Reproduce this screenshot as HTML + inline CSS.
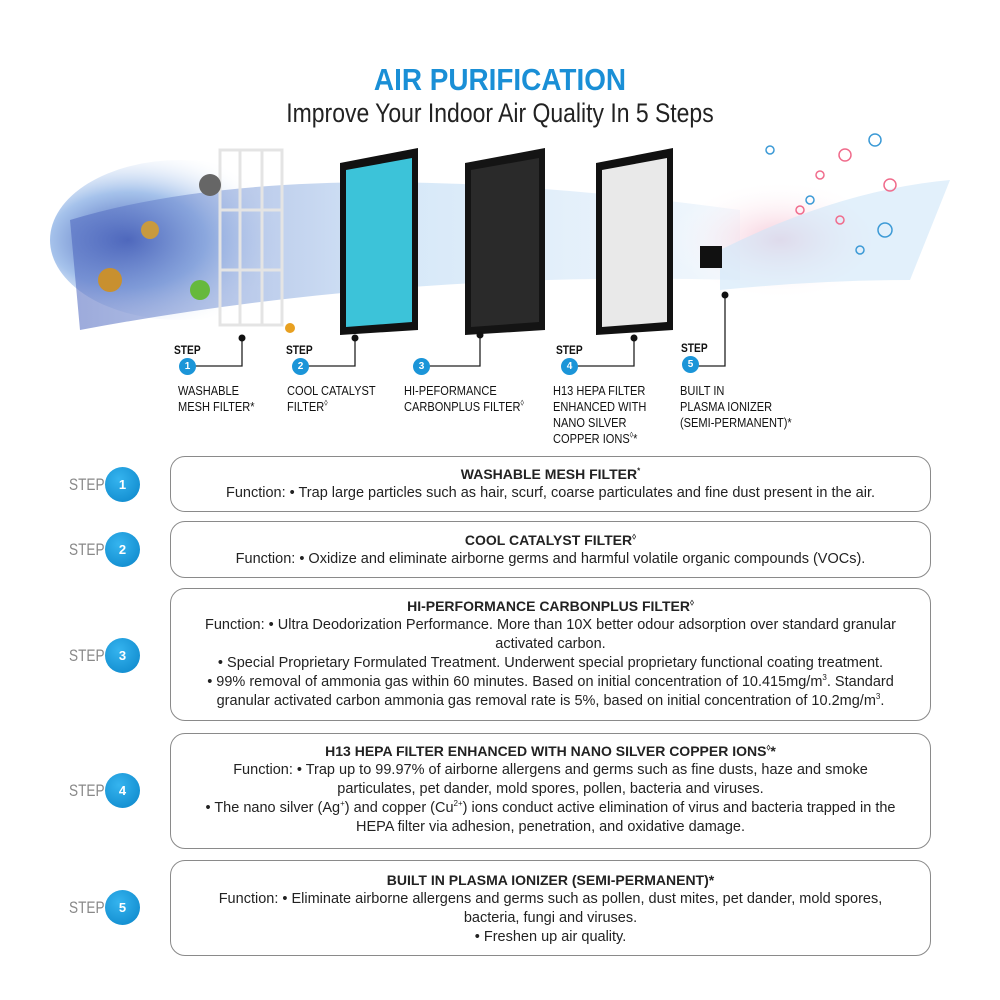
<!DOCTYPE html>
<html><head><meta charset="utf-8"><style>
body{margin:0;width:1000px;height:1000px;background:#fff;position:relative;overflow:hidden;font-family:"Liberation Sans",sans-serif;color:#222}
.a{position:absolute}
sup{line-height:0;font-size:8px}
.box{position:absolute;left:170px;width:761px;border:1.5px solid #8a8a8a;border-radius:15px;box-sizing:border-box;text-align:center;font-size:14.5px;line-height:19px;color:#222}
.box b{font-size:14px;display:block}
.st{position:absolute;left:69px;font-size:17px;color:#888;transform:scaleX(.8);transform-origin:left}
.c{position:absolute;width:35px;height:35px;border-radius:50%;background:radial-gradient(circle at 40% 35%,#35b4ef,#0a84c8);color:#fff;font-weight:bold;font-size:13px;text-align:center;line-height:35px;left:105px}
.sc{position:absolute;width:17px;height:17px;border-radius:50%;background:#1b95d8;color:#fff;font-size:10px;font-weight:bold;text-align:center;line-height:17px}
.sl{position:absolute;font-size:12px;font-weight:bold;color:#111;transform:scaleX(.85);transform-origin:left}
.lb{position:absolute;font-size:13px;line-height:16px;color:#111;transform:scaleX(.85);transform-origin:left;white-space:nowrap}
</style></head><body>
<div class="a" style="left:0;width:1000px;top:62px;text-align:center;font-size:31px;font-weight:bold;color:#1a8fd6;transform:scaleX(.9)">AIR PURIFICATION</div>
<div class="a" style="left:0;width:1000px;top:98px;text-align:center;font-size:27px;color:#222;transform:scaleX(.85)">Improve Your Indoor Air Quality In 5 Steps</div>

<svg class="a" style="left:0;top:130px" width="1000" height="260">
<defs>
<radialGradient id="bl" cx="0.3" cy="0.5" r="0.6"><stop offset="0" stop-color="#3d55b0"/><stop offset="0.5" stop-color="#8fb3e6" stop-opacity=".8"/><stop offset="1" stop-color="#fff" stop-opacity="0"/></radialGradient>
<radialGradient id="pk" cx="0.5" cy="0.5" r="0.5"><stop offset="0" stop-color="#f6c9d8"/><stop offset="1" stop-color="#fff" stop-opacity="0"/></radialGradient>
<linearGradient id="sw" x1="0" x2="1"><stop offset="0" stop-color="#4a63bd"/><stop offset=".5" stop-color="#b6d6f3"/><stop offset="1" stop-color="#e6f1fb"/></linearGradient>
</defs>
<ellipse cx="180" cy="110" rx="130" ry="80" fill="url(#bl)"/>
<path d="M70 90 Q300 20 740 80 L740 150 Q400 140 80 200 Z" fill="url(#sw)" opacity=".55"/>
<ellipse cx="780" cy="110" rx="110" ry="60" fill="url(#pk)"/>
<path d="M720 120 Q840 60 950 50 L910 150 Q820 150 720 160Z" fill="#cfe6f8" opacity=".6"/>
<g stroke="#e4e4e4" stroke-width="3" fill="none"><rect x="220" y="20" width="62" height="175"/><line x1="240" y1="20" x2="240" y2="195"/><line x1="262" y1="20" x2="262" y2="195"/><line x1="220" y1="80" x2="282" y2="80"/><line x1="220" y1="140" x2="282" y2="140"/></g>
<polygon points="340,33 418,18 418,200 340,205" fill="#111"/><polygon points="346,40 412,28 412,192 346,197" fill="#3cc3d9"/>
<polygon points="465,33 545,18 545,200 465,205" fill="#141414"/><polygon points="471,40 539,28 539,192 471,197" fill="#2a2a2a"/>
<polygon points="596,33 673,18 673,200 596,205" fill="#111"/><polygon points="602,40 667,28 667,192 602,197" fill="#e9e9e9"/>
<rect x="700" y="116" width="22" height="22" fill="#111"/>
<g fill="#66b93c"><circle cx="110" cy="150" r="12" fill="#c8902f"/><circle cx="150" cy="100" r="9" fill="#c89a3f"/><circle cx="200" cy="160" r="10"/><circle cx="290" cy="198" r="5" fill="#e8a020"/><circle cx="210" cy="55" r="11" fill="#666"/></g>
<g fill="none" stroke="#f06c8c" stroke-width="1.5"><circle cx="845" cy="25" r="6"/><circle cx="890" cy="55" r="6"/><circle cx="820" cy="45" r="4"/><circle cx="800" cy="80" r="4"/><circle cx="840" cy="90" r="4"/></g>
<g fill="none" stroke="#3c9ad6" stroke-width="1.5"><circle cx="875" cy="10" r="6"/><circle cx="885" cy="100" r="7"/><circle cx="770" cy="20" r="4"/><circle cx="810" cy="70" r="4"/><circle cx="860" cy="120" r="4"/></g>
<g stroke="#222" stroke-width="1.3" fill="none"><polyline points="195,236 242,236 242,208"/><polyline points="308,236 355,236 355,208"/><polyline points="429,236 480,236 480,205"/><polyline points="577,236 634,236 634,208"/><polyline points="698,236 725,236 725,165"/></g>
<g fill="#111"><circle cx="242" cy="208" r="3.5"/><circle cx="355" cy="208" r="3.5"/><circle cx="480" cy="205" r="3.5"/><circle cx="634" cy="208" r="3.5"/><circle cx="725" cy="165" r="3.5"/></g>
</svg>
<div class="sl" style="left:174px;top:343px">STEP</div><div class="sc" style="left:179px;top:358px">1</div>
<div class="sl" style="left:286px;top:343px">STEP</div><div class="sc" style="left:292px;top:358px">2</div>
<div class="sc" style="left:413px;top:358px">3</div>
<div class="sl" style="left:556px;top:343px">STEP</div><div class="sc" style="left:561px;top:358px">4</div>
<div class="sl" style="left:681px;top:341px">STEP</div><div class="sc" style="left:682px;top:356px">5</div>
<div class="lb" style="left:178px;top:383px">WASHABLE<br>MESH FILTER*</div>
<div class="lb" style="left:287px;top:383px">COOL CATALYST<br>FILTER<sup>◊</sup></div>
<div class="lb" style="left:404px;top:383px">HI-PEFORMANCE<br>CARBONPLUS FILTER<sup>◊</sup></div>
<div class="lb" style="left:553px;top:383px">H13 HEPA FILTER<br>ENHANCED WITH<br>NANO SILVER<br>COPPER IONS<sup>◊</sup>*</div>
<div class="lb" style="left:680px;top:383px">BUILT IN<br>PLASMA IONIZER<br>(SEMI-PERMANENT)*</div>

<div class="st" style="top:475px">STEP</div><div class="c" style="top:467px">1</div>
<div class="st" style="top:540px">STEP</div><div class="c" style="top:532px">2</div>
<div class="st" style="top:646px">STEP</div><div class="c" style="top:638px">3</div>
<div class="st" style="top:781px">STEP</div><div class="c" style="top:773px">4</div>
<div class="st" style="top:898px">STEP</div><div class="c" style="top:890px">5</div>

<div class="box" style="top:456px;height:56px;padding-top:8px"><b>WASHABLE MESH FILTER<sup>*</sup></b>Function: • Trap large particles such as hair, scurf, coarse particulates and  fine dust present in the air.</div>
<div class="box" style="top:521px;height:57px;padding-top:9px"><b>COOL CATALYST FILTER<sup>◊</sup></b>Function: • Oxidize and eliminate airborne germs and harmful volatile organic compounds (VOCs).</div>
<div class="box" style="top:588px;height:133px;padding-top:8px"><b>HI-PERFORMANCE CARBONPLUS FILTER<sup>◊</sup></b>Function: • Ultra Deodorization Performance. More than 10X better odour adsorption over standard granular<br>activated carbon.<br>• Special Proprietary Formulated Treatment. Underwent special proprietary functional coating treatment.<br>• 99% removal of ammonia gas within 60 minutes. Based on initial concentration of 10.415mg/m<sup>3</sup>. Standard<br>granular activated carbon ammonia gas removal rate is 5%, based on initial concentration of 10.2mg/m<sup>3</sup>.</div>
<div class="box" style="top:733px;height:116px;padding-top:8px"><b>H13 HEPA FILTER ENHANCED WITH NANO SILVER COPPER IONS<sup>◊</sup>*</b>Function: • Trap up to 99.97% of airborne allergens and germs such as fine dusts, haze and smoke<br>particulates, pet dander, mold spores, pollen, bacteria and viruses.<br>• The nano silver (Ag<sup>+</sup>) and copper (Cu<sup>2+</sup>) ions conduct active elimination of virus and bacteria trapped in the<br>HEPA filter via adhesion, penetration, and oxidative damage.</div>
<div class="box" style="top:860px;height:96px;padding-top:10px"><b>BUILT IN PLASMA IONIZER (SEMI-PERMANENT)*</b>Function: • Eliminate airborne allergens and germs such as pollen, dust mites, pet dander, mold spores,<br>bacteria, fungi and viruses.<br>• Freshen up air quality.</div>
</body></html>
